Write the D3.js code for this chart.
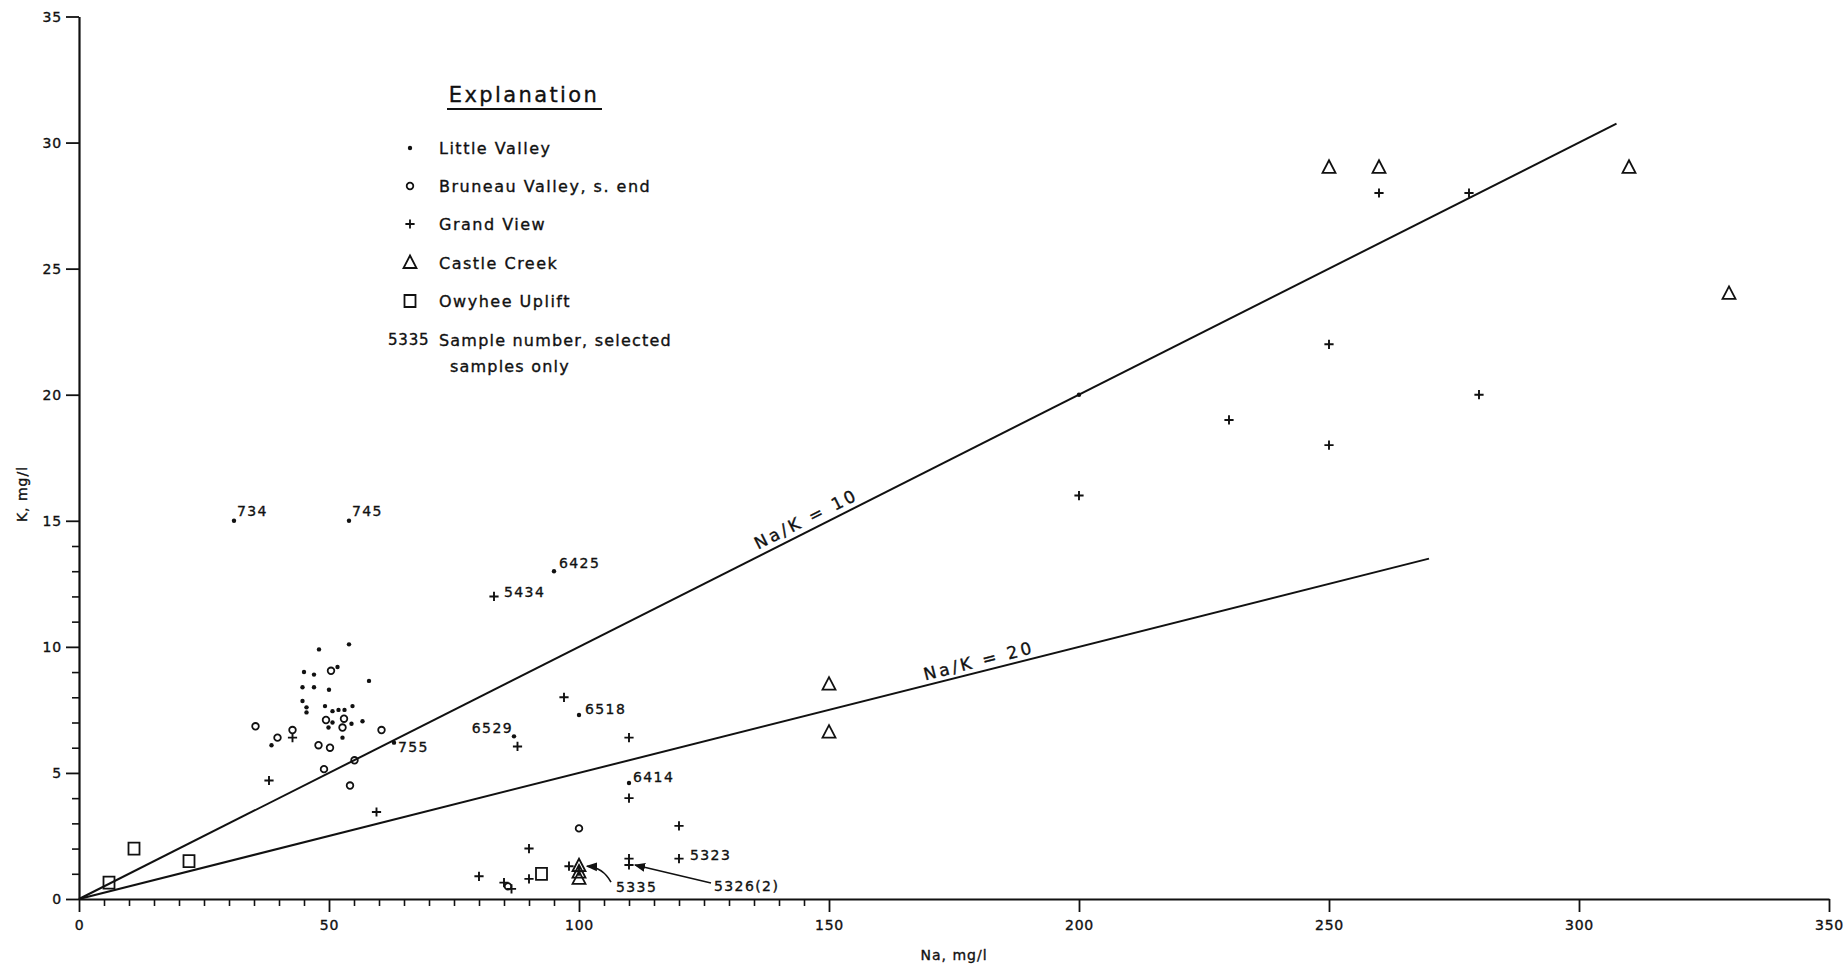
<!DOCTYPE html>
<html>
<head>
<meta charset="utf-8">
<script src="https://cdn.jsdelivr.net/npm/d3@7"></script>
<style>
  body { margin: 0; background: #fff; }
  svg { display: block; font-family: "DejaVu Sans", sans-serif; }
  svg text { stroke: #111; stroke-width: 0.35px; }
</style>
</head>
<body>
<svg id="chart" width="1847" height="967"></svg>
<script>
// Na vs K (mg/l). Each entry is [Na, K].
const littleValley = [
  [31, 15], [54, 15], [95, 13], [100, 7.3], [87, 6.45], [63, 6.2], [110, 4.6], [200, 20],
  [54, 10.1], [48, 9.9], [45, 9.0], [47, 8.9], [51.7, 9.2], [44.7, 8.4], [47, 8.4], [50, 8.3],
  [58, 8.65], [44.7, 7.85], [45.5, 7.6], [45.5, 7.4], [49.2, 7.65], [50.7, 7.45], [51.9, 7.5],
  [53.1, 7.5], [54.7, 7.65], [50.7, 7.0], [49.9, 6.8], [54.5, 6.95], [56.7, 7.05], [52.7, 6.4],
  [38.5, 6.1]
];
const bruneau = [
  [35.3, 6.85], [39.7, 6.4], [42.7, 6.7], [47.9, 6.1], [50.2, 6.0], [55.1, 5.5], [49, 5.15],
  [50.4, 9.05], [49.4, 7.1], [53, 7.15], [52.7, 6.8], [60.5, 6.7], [54.2, 4.5], [100, 2.8],
  [85.8, 0.5]
];
const grandView = [
  [83, 12], [97, 8], [87.7, 6.05], [110, 6.4], [42.7, 6.4], [38, 4.7], [59.5, 3.45], [110, 4],
  [120, 2.9], [90, 2], [120, 1.6], [110, 1.6], [110, 1.35], [80, 0.9], [85, 0.65], [86.5, 0.4],
  [90, 0.8], [98, 1.3], [100, 1.1], [200, 16], [230, 19], [250, 22], [250, 18], [260, 28],
  [278, 28], [280, 20]
];
const castleCreek = [
  [250, 29], [260, 29], [310, 29], [330, 24], [150, 8.5], [150, 6.6],
  [100, 1.3], [100, 1.05], [100, 0.8]
];
const owyhee = [[11, 2], [22, 1.5], [6, 0.65], [92.5, 1.0]];

// Na/K ratio reference lines: ratio and the Na value where each line stops
const ratioLines = [[10, 307.5], [20, 270]];

// selected sample numbers: [Na, K, label]
const sampleLabels = [
  [31, 15, '734'], [54, 15, '745'], [95, 13, '6425'], [83, 12, '5434'], [100, 7.3, '6518'],
  [87, 6.45, '6529'], [63, 6.2, '755'], [110, 4.6, '6414'], [120, 1.6, '5323']
];

const xTicks = [0, 50, 100, 150, 200, 250, 300, 350];
const yTicks = [0, 5, 10, 15, 20, 25, 30, 35];

const legendItems = [
  ['dot', 'Little Valley'],
  ['circle', 'Bruneau Valley, s. end'],
  ['plus', 'Grand View'],
  ['triangle', 'Castle Creek'],
  ['square', 'Owyhee Uplift']
];

// ─── Setup ───
const svg = d3.select('#chart');
const x = d3.scaleLinear().domain([0, 350]).range([79, 1829]);
const y = d3.scaleLinear().domain([0, 35]).range([899, 16.5]);
const ink = '#111';

// ─── Axes ───
const xMinor = d3.range(0, 151, 5).filter(v => v % 50 !== 0);
const yMinor = d3.range(0, 16, 1).filter(v => v % 5 !== 0);

svg.append('g')
  .attr('transform', `translate(0,${y(0)})`)
  .call(d3.axisBottom(x).tickValues(xMinor).tickSize(7).tickSizeOuter(0).tickFormat(''))
  .call(g => g.select('.domain').remove())
  .call(g => g.selectAll('line').attr('stroke', ink).attr('stroke-width', 1.6));

svg.append('g')
  .attr('transform', `translate(${x(0)},0)`)
  .call(d3.axisLeft(y).tickValues(yMinor).tickSize(7).tickSizeOuter(0).tickFormat(''))
  .call(g => g.select('.domain').remove())
  .call(g => g.selectAll('line').attr('stroke', ink).attr('stroke-width', 1.6));

const xAxis = svg.append('g')
  .attr('transform', `translate(0,${y(0)})`)
  .call(d3.axisBottom(x).tickValues(xTicks).tickSize(13).tickSizeOuter(0));
const yAxis = svg.append('g')
  .attr('transform', `translate(${x(0)},0)`)
  .call(d3.axisLeft(y).tickValues(yTicks).tickSize(13).tickSizeOuter(0));

[xAxis, yAxis].forEach(g => {
  g.select('.domain').attr('stroke', ink).attr('stroke-width', 2.2);
  g.selectAll('line').attr('stroke', ink).attr('stroke-width', 1.8);
  g.selectAll('text')
    .attr('fill', ink)
    .style('font-size', '14px')
    .style('letter-spacing', '0.8px')
    .style('font-family', '"DejaVu Sans", sans-serif');
});
xAxis.selectAll('text').attr('y', 26).attr('dy', '0.35em');
yAxis.selectAll('text').attr('x', -17).attr('dy', '0.35em');

svg.append('text')
  .attr('x', 954).attr('y', 960)
  .attr('text-anchor', 'middle')
  .attr('fill', ink)
  .style('font-size', '14px')
  .style('letter-spacing', '1px')
  .text('Na, mg/l');

svg.append('text')
  .attr('transform', 'translate(27,494) rotate(-90)')
  .attr('text-anchor', 'middle')
  .attr('fill', ink)
  .style('font-size', '14px')
  .style('letter-spacing', '1px')
  .text('K, mg/l');

// ─── Ratio lines ───
const lineGroup = svg.append('g');
ratioLines.forEach(([ratio, naEnd]) => {
  lineGroup.append('line')
    .attr('x1', x(0)).attr('y1', y(0))
    .attr('x2', x(naEnd)).attr('y2', y(naEnd / ratio))
    .attr('stroke', ink)
    .attr('stroke-width', 2);
});

// line labels, placed along each line slightly above it
const lineLabelAt = { 10: [146.5, 12], 20: [180.5, 11] };
ratioLines.forEach(([ratio]) => {
  const [na, off] = lineLabelAt[ratio];
  const dx = x(100) - x(0);
  const dy = y(0) - y(100 / ratio);
  const ang = Math.atan2(dy, dx) * 180 / Math.PI;
  svg.append('text')
    .attr('transform', `translate(${x(na)},${y(na / ratio)}) rotate(${-ang}) translate(0,${-off + 6})`)
    .attr('text-anchor', 'middle')
    .attr('fill', ink)
    .style('font-size', '17px')
    .style('letter-spacing', '3px')
    .text(`Na/K = ${ratio}`);
});

// ─── Markers ───
const shapes = {
  dot: () => 'M-2.2,0a2.2,2.2 0 1,0 4.4,0a2.2,2.2 0 1,0 -4.4,0',
  circle: () => 'M-3.3,0a3.3,3.3 0 1,0 6.6,0a3.3,3.3 0 1,0 -6.6,0',
  plus: () => 'M-4.6,0H4.6M0,-4.6V4.6',
  triangle: () => 'M0,-7.5L6.5,5L-6.5,5Z',
  square: () => 'M-5.5,-6H5.5V6H-5.5Z'
};
const groups = [
  [littleValley, 'dot'],
  [bruneau, 'circle'],
  [grandView, 'plus'],
  [castleCreek, 'triangle'],
  [owyhee, 'square']
];
const markGroup = svg.append('g');
groups.forEach(([data, kind]) => {
  markGroup.append('g')
    .selectAll('path')
    .data(data)
    .join('path')
    .attr('transform', d => `translate(${x(d[0])},${y(d[1])})`)
    .attr('d', shapes[kind])
    .attr('fill', kind === 'dot' ? ink : 'none')
    .attr('stroke', kind === 'dot' ? 'none' : ink)
    .attr('stroke-width', kind === 'plus' ? 1.9 : 1.8);
});

// ─── Sample labels ───
const labelOffset = {
  '734': [3, -5, 'start'], '745': [3, -5, 'start'], '6425': [5, -3, 'start'],
  '5434': [10, 1, 'start'], '6518': [6, -1, 'start'], '6529': [-1, -3, 'end'],
  '755': [4, 9, 'start'], '6414': [4, -1, 'start'], '5323': [11, 1, 'start']
};
svg.append('g')
  .selectAll('text')
  .data(sampleLabels)
  .join('text')
  .attr('x', d => x(d[0]) + labelOffset[d[2]][0])
  .attr('y', d => y(d[1]) + labelOffset[d[2]][1])
  .attr('text-anchor', d => labelOffset[d[2]][2])
  .attr('fill', ink)
  .style('font-size', '14px')
  .style('letter-spacing', '1.4px')
  .text(d => d[2]);

// labels with leader arrows near Na = 100-110
svg.append('defs').append('marker')
  .attr('id', 'arrow')
  .attr('viewBox', '0 0 10 10')
  .attr('refX', 9).attr('refY', 5)
  .attr('markerWidth', 7).attr('markerHeight', 7)
  .attr('orient', 'auto')
  .append('path')
  .attr('d', 'M0,1L10,5L0,9Z')
  .attr('fill', ink);

const a1 = [x(100) + 8, y(1.3)];
svg.append('path')
  .attr('d', `M${a1[0] + 24},${a1[1] + 16}Q${a1[0] + 16},${a1[1] + 1} ${a1[0]},${a1[1]}`)
  .attr('fill', 'none').attr('stroke', ink).attr('stroke-width', 1.6)
  .attr('marker-end', 'url(#arrow)');
svg.append('text')
  .attr('x', a1[0] + 29).attr('y', a1[1] + 26)
  .attr('fill', ink)
  .style('font-size', '14px').style('letter-spacing', '1.4px')
  .text('5335');

const a2 = [x(110) + 6, y(1.35)];
svg.append('line')
  .attr('x1', a2[0] + 76).attr('y1', a2[1] + 18)
  .attr('x2', a2[0]).attr('y2', a2[1])
  .attr('stroke', ink).attr('stroke-width', 1.6)
  .attr('marker-end', 'url(#arrow)');
svg.append('text')
  .attr('x', a2[0] + 79).attr('y', a2[1] + 26)
  .attr('fill', ink)
  .style('font-size', '14px').style('letter-spacing', '1.4px')
  .text('5326(2)');

// ─── Legend ───
const legend = svg.append('g');
legend.append('text')
  .attr('x', 524).attr('y', 102)
  .attr('text-anchor', 'middle')
  .attr('fill', ink)
  .style('font-size', '21px')
  .style('letter-spacing', '2.4px')
  .text('Explanation');
legend.append('line')
  .attr('x1', 447).attr('x2', 602)
  .attr('y1', 109).attr('y2', 109)
  .attr('stroke', ink).attr('stroke-width', 2.2);

const rowY = [148, 186, 224, 263, 301];
legendItems.forEach(([kind, label], i) => {
  legend.append('path')
    .attr('transform', `translate(410,${rowY[i]})`)
    .attr('d', shapes[kind])
    .attr('fill', kind === 'dot' ? ink : 'none')
    .attr('stroke', kind === 'dot' ? 'none' : ink)
    .attr('stroke-width', 1.8);
  legend.append('text')
    .attr('x', 439).attr('y', rowY[i] + 6)
    .attr('fill', ink)
    .style('font-size', '16px')
    .style('letter-spacing', '1.5px')
    .text(label);
});
legend.append('text')
  .attr('x', 388).attr('y', 345)
  .attr('fill', ink)
  .style('font-size', '15px')
  .style('letter-spacing', '0.8px')
  .text('5335');
legend.append('text')
  .attr('x', 439).attr('y', 346)
  .attr('fill', ink)
  .style('font-size', '16px')
  .style('letter-spacing', '1.2px')
  .text('Sample number, selected');
legend.append('text')
  .attr('x', 450).attr('y', 372)
  .attr('fill', ink)
  .style('font-size', '16px')
  .style('letter-spacing', '1.2px')
  .text('samples only');
</script>
</body>
</html>
